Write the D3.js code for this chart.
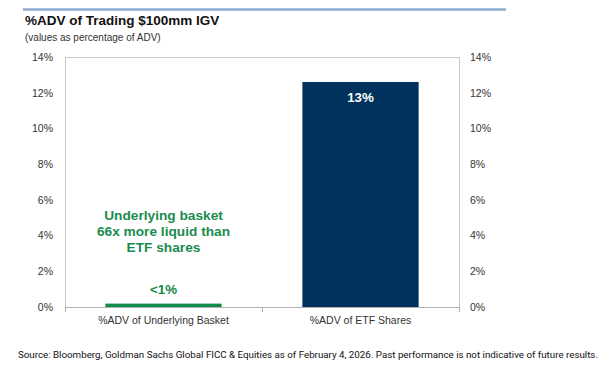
<!DOCTYPE html>
<html>
<head>
<meta charset="utf-8">
<script src="https://cdn.jsdelivr.net/npm/d3@7"></script>
<style>
  body { margin: 0; background: #fff; }
  svg { display: block; font-family: "Liberation Sans", Arial, sans-serif; }
</style>
</head>
<body>
<div id="chart"></div>
<script>
// Data
const categories = ['%ADV of Underlying Basket', '%ADV of ETF Shares'];
const values = [0.19, 12.6];
const valueLabels = ['<1%', '13%'];
const barColors = ['#138a4b', '#00325d'];
const yTicks = [0, 2, 4, 6, 8, 10, 12, 14];
const noteLines = ['Underlying basket', '66x more liquid than', 'ETF shares'];

const width = 612, height = 372;
const margin = { top: 57, right: 153, bottom: 65, left: 65 };

const svg = d3.select('#chart')
  .append('svg')
  .attr('width', width)
  .attr('height', height);

// Header rule + titles
svg.append('line')
  .attr('x1', 23).attr('x2', 506)
  .attr('y1', 9.5).attr('y2', 9.5)
  .attr('stroke', '#8eaad1')
  .attr('stroke-width', 2.5);

svg.append('text')
  .attr('x', 25).attr('y', 25)
  .attr('font-size', 13.5)
  .attr('font-weight', 'bold')
  .attr('fill', '#111')
  .text('%ADV of Trading $100mm IGV');

svg.append('text')
  .attr('x', 25).attr('y', 41)
  .attr('font-size', 10)
  .attr('fill', '#333')
  .text('(values as percentage of ADV)');

// Scales
const x = d3.scaleBand()
  .domain(categories)
  .range([margin.left, width - margin.right])
  .paddingInner(0.41)
  .paddingOuter(0.205);

const y = d3.scaleLinear()
  .domain([0, 14])
  .range([height - margin.bottom, margin.top]);

const fmt = d => d + '%';

// Frame
svg.append('rect')
  .attr('x', margin.left + 0.5)
  .attr('y', margin.top + 0.5)
  .attr('width', width - margin.right - margin.left)
  .attr('height', height - margin.bottom - margin.top)
  .attr('fill', 'none')
  .attr('stroke', '#c8c8c8');

// Left axis
const yLeft = svg.append('g')
  .attr('transform', `translate(${margin.left},0)`)
  .call(d3.axisLeft(y).tickValues(yTicks).tickFormat(fmt).tickSize(0).tickPadding(12));
yLeft.select('.domain').remove();

// Right axis
const yRight = svg.append('g')
  .attr('transform', `translate(${width - margin.right},0)`)
  .call(d3.axisRight(y).tickValues(yTicks).tickFormat(fmt).tickSize(0).tickPadding(11));
yRight.select('.domain').remove();

[yLeft, yRight].forEach(g => g.selectAll('text')
  .attr('font-size', 10.5)
  .attr('fill', '#333')
  .attr('font-family', '"Liberation Sans", Arial, sans-serif'));

// Bottom axis with category separators
const xAxis = svg.append('g')
  .attr('transform', `translate(0,${height - margin.bottom})`)
  .call(d3.axisBottom(x).tickSize(0).tickPadding(10));
xAxis.select('.domain').attr('stroke', '#b0b0b0').attr('d', `M${margin.left},0.5H${width - margin.right}`);
xAxis.selectAll('text')
  .attr('font-size', 10.5)
  .attr('fill', '#333')
  .attr('font-family', '"Liberation Sans", Arial, sans-serif');

const seps = d3.range(categories.length + 1).map(i => margin.left + i * (width - margin.right - margin.left) / categories.length);
svg.append('g').selectAll('line')
  .data(seps)
  .join('line')
  .attr('x1', d => d + 0.5).attr('x2', d => d + 0.5)
  .attr('y1', height - margin.bottom)
  .attr('y2', height - margin.bottom + 5)
  .attr('stroke', '#b0b0b0');

// Bars
svg.append('g').selectAll('rect')
  .data(values)
  .join('rect')
  .attr('x', (d, i) => x(categories[i]))
  .attr('y', d => y(d))
  .attr('width', x.bandwidth())
  .attr('height', d => y(0) - y(d))
  .attr('fill', (d, i) => barColors[i]);

// Value labels
svg.append('g').selectAll('text')
  .data(values)
  .join('text')
  .attr('x', (d, i) => x(categories[i]) + x.bandwidth() / 2)
  .attr('y', (d, i) => i === 0 ? y(d) - 10 : y(d) + 20)
  .attr('text-anchor', 'middle')
  .attr('font-size', 13.3)
  .attr('font-weight', 'bold')
  .attr('fill', (d, i) => i === 0 ? barColors[0] : '#fff')
  .text((d, i) => valueLabels[i]);

// Annotation
const cx0 = x(categories[0]) + x.bandwidth() / 2;
svg.append('g').selectAll('text')
  .data(noteLines)
  .join('text')
  .attr('x', cx0)
  .attr('y', (d, i) => y(4.85) + i * 16)
  .attr('text-anchor', 'middle')
  .attr('font-size', 13.7)
  .attr('font-weight', 'bold')
  .attr('fill', '#1a8c4e')
  .text(d => d);

// Source
svg.append('text')
  .attr('x', 18).attr('y', 358)
  .attr('font-size', 8.5)
  .attr('font-family', 'Roboto, "Noto Sans", sans-serif')
  .attr('fill', '#111')
  .attr('textLength', 580)
  .attr('lengthAdjust', 'spacingAndGlyphs')
  .text('Source: Bloomberg, Goldman Sachs Global FICC & Equities as of February 4, 2026. Past performance is not indicative of future results.');
</script>
</body>
</html>
